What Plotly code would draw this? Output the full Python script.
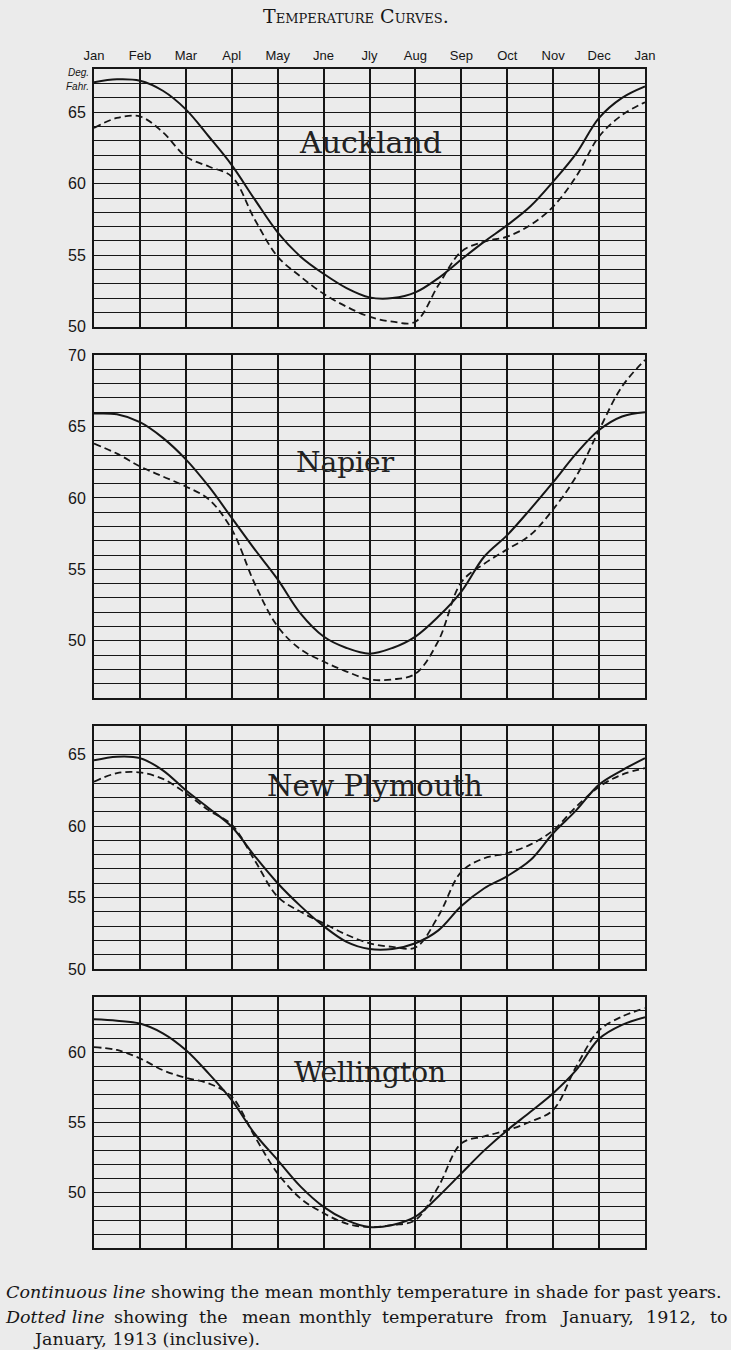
import plotly.graph_objects as go

# ---------------- data ----------------
month_labels = ["Jan", "Feb", "Mar", "Apl", "May", "Jne", "Jly", "Aug", "Sep", "Oct", "Nov", "Dec", "Jan"]
month_ticks = [0, 1, 2, 3, 4, 5, 6, 7, 8, 9, 10, 11, 12]
# positions (in months from January) at which the curves were read
month_pos = [0, 0.5, 1, 1.5, 2, 2.5, 3, 3.5, 4, 4.5, 5, 5.5, 6, 6.5, 7, 7.5,
             8, 8.5, 9, 9.5, 10, 10.5, 11, 11.5, 12]

stations = ["Auckland", "Napier", "New Plymouth", "Wellington"]

# continuous line: mean monthly temperature for past years (deg F)
auckland_past = [67.1, 67.3, 67.2, 66.5, 65.2, 63.3, 61.3, 58.9, 56.6, 54.9, 53.7, 52.7, 52.05,
                 52.0, 52.4, 53.4, 54.7, 55.95, 57.1, 58.4, 60.15, 62.1, 64.6, 66.0, 66.8]
napier_past = [65.9, 65.85, 65.3, 64.2, 62.7, 60.8, 58.6, 56.4, 54.3, 51.9, 50.3, 49.5, 49.1,
               49.5, 50.3, 51.7, 53.45, 55.9, 57.4, 59.2, 61.1, 63.1, 64.75, 65.7, 66.0]
newplymouth_past = [64.6, 64.85, 64.75, 63.9, 62.5, 61.25, 59.95, 57.9, 56.0, 54.4, 53.0, 51.9, 51.4,
                    51.4, 51.8, 52.7, 54.4, 55.65, 56.5, 57.6, 59.5, 61.1, 62.9, 63.9, 64.75]
wellington_past = [62.4, 62.3, 62.1, 61.4, 60.2, 58.5, 56.6, 54.2, 52.3, 50.4, 48.95, 48.0, 47.5,
                   47.65, 48.25, 49.7, 51.35, 53.0, 54.45, 55.75, 57.1, 58.75, 61.0, 62.0, 62.55]

# dotted line: mean monthly temperature Jan 1912 - Jan 1913 (deg F)
auckland_1912 = [63.9, 64.6, 64.7, 63.6, 61.9, 61.2, 60.5, 57.5, 54.9, 53.5, 52.3, 51.4, 50.7,
                 50.35, 50.35, 52.9, 55.25, 55.95, 56.3, 57.1, 58.4, 60.5, 63.3, 64.8, 65.7]
napier_1912 = [63.8, 63.1, 62.2, 61.5, 60.8, 59.9, 57.8, 54.0, 51.0, 49.4, 48.55, 47.85, 47.3,
               47.3, 47.7, 50.0, 54.1, 55.4, 56.4, 57.4, 59.2, 61.5, 64.75, 67.8, 69.65]
newplymouth_1912 = [63.1, 63.7, 63.75, 63.3, 62.3, 61.1, 60.1, 57.6, 55.05, 54.0, 53.2, 52.4, 51.8,
                    51.55, 51.5, 53.7, 56.8, 57.75, 58.1, 58.7, 59.7, 61.35, 62.75, 63.6, 64.05]
wellington_1912 = [60.4, 60.2, 59.6, 58.75, 58.2, 57.8, 56.85, 54.0, 51.35, 49.55, 48.5, 47.75, 47.5,
                   47.65, 48.0, 50.4, 53.5, 54.0, 54.45, 55.05, 55.9, 59.0, 61.6, 62.6, 63.2]

past_series = [auckland_past, napier_past, newplymouth_past, wellington_past]
recent_series = [auckland_1912, napier_1912, newplymouth_1912, wellington_1912]

# y-axis ranges (deg F) of each panel
y_ranges = [(50, 68), (46, 70), (50, 67), (46, 64)]

title_text = "Temperature Curves."
caption_1 = "<i>Continuous line</i> showing the mean monthly temperature in shade for past years."
caption_2_words = ["<i>Dotted line</i>", "showing", "the", "mean", "monthly", "temperature",
                   "from", "January,", "1912,", "to"]
caption_3 = "January, 1913 (inclusive)."

# ---------------- layout helpers ----------------
W, H = 731, 1350
BG = "#ebebeb"
INK = "#161616"


def px(x):
    return x / W


def py(y):
    return 1 - y / H


panel_px = [(69.3, 326.7), (355, 698), (726, 969), (997, 1248)]
x_dom = [px(94), px(645)]
name_pos = [(6.03, 62.85), (5.47, 62.5), (6.12, 62.8), (6.01, 58.6)]
name_size = [30, 28, 29, 28]
# left edges (px) of the words in the justified second caption line
caption_2_left = [3, 112, 197, 240, 297, 380, 503, 558, 644, 708]

fig = go.Figure()
layout = dict(
    width=W, height=H, autosize=False,
    margin=dict(l=0, r=0, t=0, b=0, pad=0),
    paper_bgcolor=BG, plot_bgcolor=BG,
    showlegend=False,
    font=dict(family="Liberation Sans Narrow, Liberation Sans, Arial, sans-serif", color=INK),
)

annotations = []
label_font = "Liberation Sans Narrow, Liberation Sans, Arial, sans-serif"
serif = "DejaVu Serif, Liberation Serif, serif"

for i, name in enumerate(stations):
    k = "" if i == 0 else str(i + 1)
    xa, ya = "x" + k, "y" + k
    lo, hi = y_ranges[i]
    top, bot = panel_px[i]
    yvals = list(range(lo, hi + 1))
    ytext = [str(v) if (v % 5 == 0) else "" for v in yvals]
    if i == 0:
        ytext = [t if v != hi else "" for v, t in zip(yvals, ytext)]

    layout["xaxis" + k] = dict(
        domain=x_dom, anchor=ya, range=[0, 12], automargin=False,
        tickvals=month_ticks,
        ticktext=month_labels if i == 0 else [""] * 13,
        showticklabels=(i == 0), side="top",
        ticks="", showgrid=True, gridcolor=INK, gridwidth=1.7,
        zeroline=False, showline=True, mirror=True, linecolor=INK, linewidth=2,
        tickfont=dict(size=13, family=label_font, color=INK),
        ticklabelstandoff=2,
        fixedrange=True,
    )
    layout["yaxis" + k] = dict(
        domain=[py(bot), py(top)], anchor=xa, range=[lo, hi], automargin=False,
        tickvals=yvals, ticktext=ytext,
        ticks="", showgrid=True, gridcolor=INK, gridwidth=1.3,
        zeroline=False, showline=True, mirror=True, linecolor=INK, linewidth=2,
        tickfont=dict(size=16, family=label_font, color=INK),
        ticklabelstandoff=3,
        fixedrange=True,
    )

    fig.add_trace(go.Scatter(
        x=month_pos, y=past_series[i], xaxis=xa, yaxis=ya, mode="lines",
        line=dict(color=INK, width=2.0, shape="spline", smoothing=1.0),
        name=name + " (past years)", hoverinfo="skip",
    ))
    fig.add_trace(go.Scatter(
        x=month_pos, y=recent_series[i], xaxis=xa, yaxis=ya, mode="lines",
        line=dict(color=INK, width=1.8, shape="spline", smoothing=1.0, dash="7px,4px"),
        name=name + " (1912)", hoverinfo="skip",
    ))

    nx, ny = name_pos[i]
    annotations.append(dict(
        x=nx, y=ny, xref=xa, yref=ya, text=name, showarrow=False,
        font=dict(family=serif, size=name_size[i], color="#222222"),
    ))

# Deg. Fahr. label
annotations.append(dict(x=px(91), y=py(73), xref="paper", yref="paper", text="<i>Deg.</i>",
                        showarrow=False, xanchor="right", yanchor="middle",
                        font=dict(size=10, family=label_font, color=INK)))
annotations.append(dict(x=px(91), y=py(87), xref="paper", yref="paper", text="<i>Fahr.</i>",
                        showarrow=False, xanchor="right", yanchor="middle",
                        font=dict(size=10, family=label_font, color=INK)))

# Title
annotations.append(dict(x=px(356), y=py(16), xref="paper", yref="paper", text=title_text,
                        showarrow=False, xanchor="center", yanchor="middle",
                        font=dict(size=19, family=serif, color=INK, variant="small-caps")))

cap_font = dict(size=17.5, family=serif, color=INK)
annotations.append(dict(x=px(4), y=py(1292), xref="paper", yref="paper", text=caption_1,
                        showarrow=False, xanchor="left", yanchor="middle", font=cap_font))
for word, lx in zip(caption_2_words, caption_2_left):
    annotations.append(dict(x=px(lx), y=py(1317), xref="paper", yref="paper", text=word,
                            showarrow=False, xanchor="left", yanchor="middle", font=cap_font))
annotations.append(dict(x=px(31), y=py(1339), xref="paper", yref="paper", text=caption_3,
                        showarrow=False, xanchor="left", yanchor="middle", font=cap_font))

layout["annotations"] = annotations
fig.update_layout(**layout)
fig.write_html(
    "out.html",
    config={"displayModeBar": False},
    post_script="document.body.style.margin='0px';document.body.style.overflow='hidden';",
)
